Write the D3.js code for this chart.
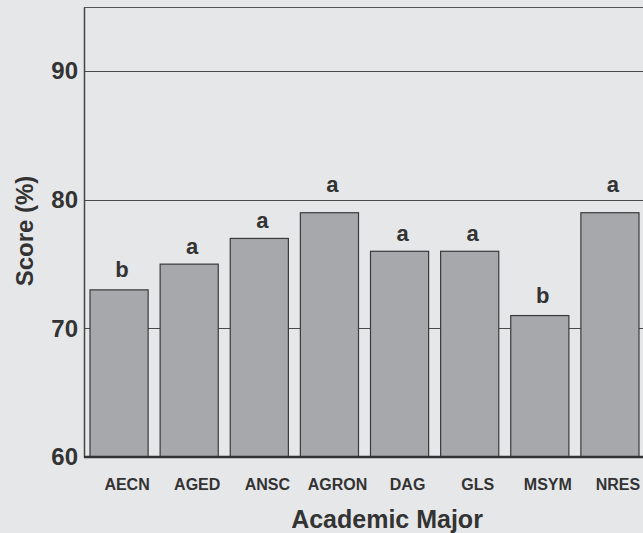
<!DOCTYPE html>
<html>
<head>
<meta charset="utf-8">
<script src="https://cdn.jsdelivr.net/npm/d3@7"></script>
<style>
  html, body { margin: 0; padding: 0; background: #e6e7e9; }
  svg { display: block; }
  text { font-family: "Liberation Sans", Arial, Helvetica, sans-serif; font-weight: bold; fill: #333; }
</style>
</head>
<body>
<svg id="chart" width="643" height="533"></svg>
<script>
const categories = ["AECN", "AGED", "ANSC", "AGRON", "DAG", "GLS", "MSYM", "NRES"];
const scores = [73, 75, 77, 79, 76, 76, 71, 79];
const letters = ["b", "a", "a", "a", "a", "a", "b", "a"];
const letterPos = [74.0, 75.8, 77.8, 80.6, 76.8, 76.8, 72.0, 80.6];
const yTicks = [60, 70, 80, 90];
const yDomain = [60, 95];

const svg = d3.select("#chart");
const W = 643, H = 533;
const plot = { left: 84, top: 7, right: 645, bottom: 457 };

const x = d3.scaleBand().domain(categories).range([plot.left, plot.right]).paddingInner(0.171).paddingOuter(0.0855);
const y = d3.scaleLinear().domain(yDomain).range([plot.bottom, plot.top]);

// gridlines
svg.append("g").selectAll("line").data(yTicks.filter(d => d > yDomain[0])).join("line")
  .attr("x1", plot.left).attr("x2", W)
  .attr("y1", d => Math.round(y(d)) + 0.5).attr("y2", d => Math.round(y(d)) + 0.5)
  .attr("stroke", "#4a4a4a").attr("stroke-width", 1);

// top border
svg.append("line").attr("x1", plot.left).attr("x2", W)
  .attr("y1", y(yDomain[1]) + 0.5).attr("y2", y(yDomain[1]) + 0.5)
  .attr("stroke", "#555").attr("stroke-width", 1);

// bars
svg.append("g").selectAll("rect").data(categories).join("rect")
  .attr("x", d => x(d))
  .attr("y", (d, i) => y(scores[i]))
  .attr("width", x.bandwidth())
  .attr("height", (d, i) => y(yDomain[0]) - y(scores[i]))
  .attr("fill", "#a7a8ab")
  .attr("stroke", "#3a3a3a")
  .attr("stroke-width", 1.2);

// significance letters
svg.append("g").selectAll("text").data(categories).join("text")
  .attr("x", d => x(d) + x.bandwidth() / 2 + 3)
  .attr("y", (d, i) => y(letterPos[i]))
  .attr("text-anchor", "middle")
  .attr("font-size", 22)
  .text((d, i) => letters[i]);

// y axis
const yAxis = d3.axisLeft(y).tickValues(yTicks).tickSize(0).tickPadding(6).tickFormat(d3.format("d"));
const gy = svg.append("g").attr("transform", `translate(${plot.left},0)`).call(yAxis);
gy.select(".domain").attr("stroke", "#444").attr("stroke-width", 1.5);
gy.selectAll("text").attr("font-size", 24).attr("fill", "#333")
  .attr("font-family", "Liberation Sans, Arial, sans-serif").attr("font-weight", "bold");

// x axis
const xAxis = d3.axisBottom(x).tickSize(0).tickPadding(22);
const gx = svg.append("g").attr("transform", `translate(0,${plot.bottom})`).call(xAxis);
gx.select(".domain").remove();
gx.selectAll("text").attr("font-size", 16).attr("dx", 8).attr("fill", "#333")
  .attr("font-family", "Liberation Sans, Arial, sans-serif").attr("font-weight", "bold");
svg.append("line").attr("x1", plot.left).attr("x2", W)
  .attr("y1", plot.bottom).attr("y2", plot.bottom)
  .attr("stroke", "#333").attr("stroke-width", 2.5);

// axis titles
svg.append("text").attr("x", 387).attr("y", 528).attr("text-anchor", "middle")
  .attr("font-size", 25).text("Academic Major");
svg.append("text").attr("transform", "translate(33,231) rotate(-90)")
  .attr("text-anchor", "middle").attr("font-size", 24).text("Score (%)");
</script>
</body>
</html>
